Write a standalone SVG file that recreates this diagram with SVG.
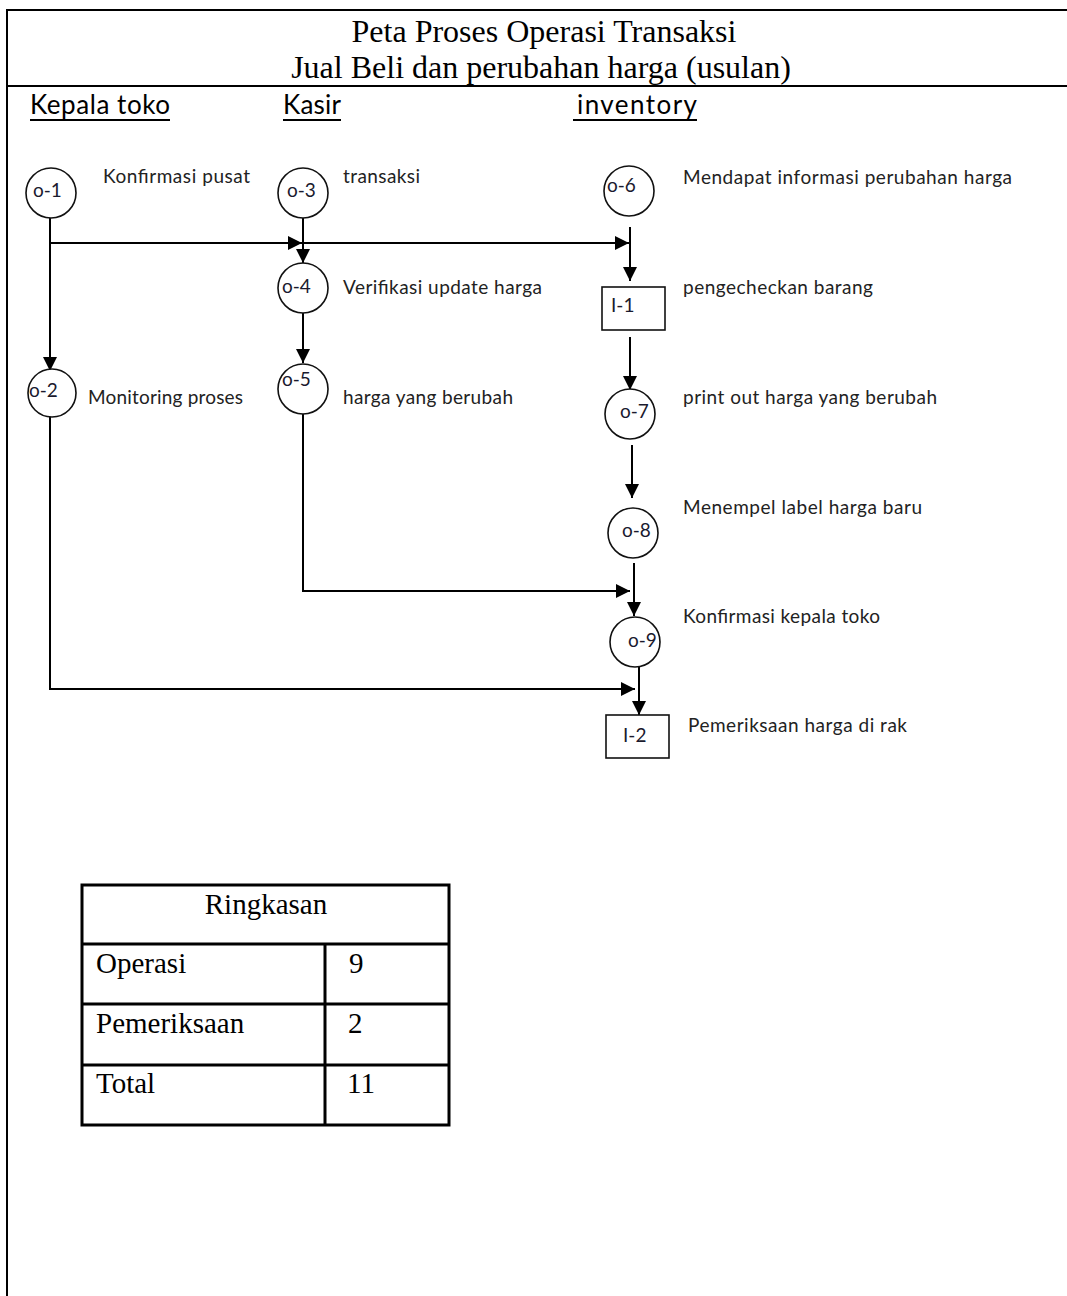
<svg xmlns="http://www.w3.org/2000/svg" width="1067" height="1296" viewBox="0 0 1067 1296">
<style>
.frame{stroke:#000;stroke-width:2;fill:none}
.ttl{font-family:"Liberation Serif","Times New Roman",serif;font-size:32px;fill:#000;text-anchor:middle}
.lane{font-family:Lato,"Open Sans",sans-serif;font-size:26px;fill:#000}
.lbl{font-family:Lato,"Open Sans",sans-serif;font-size:19px;fill:#222}
.nid{font-family:Lato,"Open Sans",sans-serif;font-size:19px;fill:#1a1a2e}
.op{fill:#fff;stroke:#111;stroke-width:1.6}
.con{stroke:#000;stroke-width:2;fill:none}
.tbl{stroke:#000;stroke-width:3;fill:none}
.tt{font-family:"Liberation Serif","Times New Roman",serif;font-size:29px;fill:#000}
</style>
<defs>
<marker id="ah" markerUnits="userSpaceOnUse" markerWidth="15" markerHeight="14" refX="14" refY="7" orient="auto">
<path d="M0,0 L14,7 L0,14 z" fill="#000"/>
</marker>
</defs>
<rect width="1067" height="1296" fill="#fff"/>
<g id="frame">
<path class="frame" d="M7,10 H1067 M7,9 V1296 M7,86 H1067"/>
<text class="ttl" x="544" y="42">Peta Proses Operasi Transaksi</text>
<text class="ttl" x="541" y="78">Jual Beli dan perubahan harga (usulan)</text>
</g>
<g id="lanes">
<text class="lane" x="30" y="114" textLength="140">Kepala toko</text>
<text class="lane" x="283" y="114" textLength="58">Kasir</text>
<text class="lane" x="577" y="114" textLength="120">inventory</text>
<path class="frame" d="M30,120 H170 M283,120 H341 M573,120 H697"/>
</g>
<g id="connectors">
<path class="con" d="M50,218 V371" marker-end="url(#ah)"/>
<path class="con" d="M50,243 H302" marker-end="url(#ah)"/>
<path class="con" d="M302,243 H629" marker-end="url(#ah)"/>
<path class="con" d="M303,218 V263" marker-end="url(#ah)"/>
<path class="con" d="M303,313 V363" marker-end="url(#ah)"/>
<path class="con" d="M630,227 V281" marker-end="url(#ah)"/>
<path class="con" d="M630,337 V390" marker-end="url(#ah)"/>
<path class="con" d="M632,445 V498" marker-end="url(#ah)"/>
<path class="con" d="M634,563 V616" marker-end="url(#ah)"/>
<path class="con" d="M303,413 V591 H630" marker-end="url(#ah)"/>
<path class="con" d="M639,667 V715" marker-end="url(#ah)"/>
<path class="con" d="M50,417 V689 H635" marker-end="url(#ah)"/>
</g>
<g id="o-1">
<circle class="op" cx="51" cy="193" r="25"/>
<text class="nid" x="33" y="197">o-1</text>
<text class="lbl" x="103" y="183" textLength="147">Konfirmasi pusat</text>
</g>
<g id="o-2">
<circle class="op" cx="52" cy="393" r="24"/>
<text class="nid" x="29" y="397">o-2</text>
<text class="lbl" x="88" y="404" textLength="155">Monitoring proses</text>
</g>
<g id="o-3">
<circle class="op" cx="303" cy="193" r="25"/>
<text class="nid" x="287" y="197">o-3</text>
<text class="lbl" x="343" y="183" textLength="77">transaksi</text>
</g>
<g id="o-4">
<circle class="op" cx="303" cy="288" r="25"/>
<text class="nid" x="282" y="293">o-4</text>
<text class="lbl" x="343" y="294" textLength="199">Verifikasi update harga</text>
</g>
<g id="o-5">
<circle class="op" cx="303" cy="389" r="25"/>
<text class="nid" x="282" y="386">o-5</text>
<text class="lbl" x="343" y="404" textLength="170">harga yang berubah</text>
</g>
<g id="o-6">
<circle class="op" cx="629" cy="191" r="25"/>
<text class="nid" x="607" y="192">o-6</text>
<text class="lbl" x="683" y="184" textLength="329">Mendapat informasi perubahan harga</text>
</g>
<g id="I-1">
<rect class="op" x="602" y="287" width="63" height="43"/>
<text class="nid" x="611" y="312">I-1</text>
<text class="lbl" x="683" y="294" textLength="190">pengecheckan barang</text>
</g>
<g id="o-7">
<circle class="op" cx="630" cy="414" r="25"/>
<text class="nid" x="620" y="418">o-7</text>
<text class="lbl" x="683" y="404" textLength="254">print out harga yang berubah</text>
</g>
<g id="o-8">
<circle class="op" cx="633" cy="533" r="25"/>
<text class="nid" x="622" y="537">o-8</text>
<text class="lbl" x="683" y="514" textLength="239">Menempel label harga baru</text>
</g>
<g id="o-9">
<circle class="op" cx="635" cy="642" r="25"/>
<text class="nid" x="628" y="647">o-9</text>
<text class="lbl" x="683" y="623" textLength="197">Konfirmasi kepala toko</text>
</g>
<g id="I-2">
<rect class="op" x="606" y="715" width="63" height="43"/>
<text class="nid" x="623" y="742">I-2</text>
<text class="lbl" x="688" y="732" textLength="219">Pemeriksaan harga di rak</text>
</g>
<g id="summary">
<path class="tbl" d="M82,885 H449 V1125 H82 Z M82,944 H449 M82,1004 H449 M82,1065 H449 M325,944 V1125"/>
<text class="tt" x="266" y="914" text-anchor="middle">Ringkasan</text>
<text class="tt" x="96" y="973">Operasi</text>
<text class="tt" x="349" y="973">9</text>
<text class="tt" x="96" y="1033">Pemeriksaan</text>
<text class="tt" x="348" y="1033">2</text>
<text class="tt" x="96" y="1093">Total</text>
<text class="tt" x="347" y="1093">11</text>
</g>
</svg>
